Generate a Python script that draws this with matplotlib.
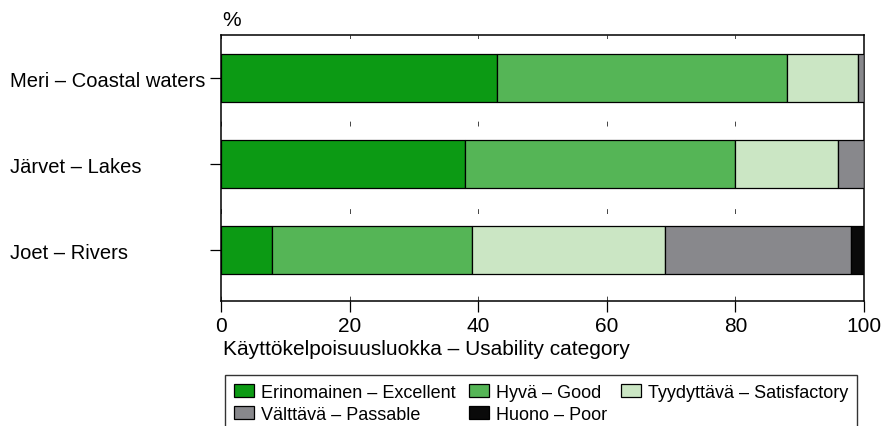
import matplotlib.pyplot as plt
import numpy as np

plt.rcParams['font.family'] = ['Liberation Sans', 'DejaVu Sans']

# Käyttökelpoisuusluokat (%) / usability category shares
alueet = ['Meri – Coastal waters', 'Järvet – Lakes', 'Joet – Rivers']
luokat = ['Erinomainen – Excellent', 'Hyvä – Good', 'Tyydyttävä – Satisfactory',
          'Välttävä – Passable', 'Huono – Poor']
erinomainen = [43, 38, 8]
hyva = [45, 42, 31]
tyydyttava = [11, 16, 30]
valttava = [1, 4, 29]
huono = [0, 0, 2]
varit = ['#0c9a14', '#55b556', '#cbe6c4', '#88888c', '#0a0a0a']

fig = plt.figure(figsize=(8.83, 4.27), dpi=100)
ax = fig.add_axes([221 / 883, 1 - 302 / 427, 643 / 883, 266 / 427])

y = np.array([2, 1, 0])
vasen = np.zeros(3)
palkit = []
for arvot, vari, nimi in zip([erinomainen, hyva, tyydyttava, valttava, huono], varit, luokat):
    b = ax.barh(y, arvot, left=vasen, height=0.55, color=vari, edgecolor='black',
                linewidth=0.9, label=nimi, zorder=3)
    palkit.append(b)
    vasen = vasen + np.array(arvot)

ax.set_xlim(0, 100)
ax.set_ylim(-0.593, 2.5)
ax.set_xticks([0, 20, 40, 60, 80, 100])
ax.tick_params(axis='x', length=8, width=0.9, labelsize=15, pad=3)
ax.set_yticks(y)
ax.set_yticklabels(alueet)
ax.tick_params(axis='y', length=8, width=0.9, labelsize=14.5, pad=144)
for t in ax.get_yticklabels():
    t.set_horizontalalignment('left')

ax.xaxis.grid(True, color='#444444', linewidth=0.7, linestyle=(0, (5, 40)))
ax.set_axisbelow(True)
for s in ax.spines.values():
    s.set_linewidth(1.1)

fig.text(232 / 883, 1 - 20 / 427, '%', fontsize=15, ha='center', va='center')
fig.text(223 / 883, 1 - 350 / 427, 'Käyttökelpoisuusluokka – Usability category',
         fontsize=15, ha='left', va='center')

# rivi 1: Excellent, Good, Satisfactory; rivi 2: Passable, Poor
jarjestys = [0, 3, 1, 4, 2]
leg = fig.legend([palkit[i] for i in jarjestys], [luokat[i] for i in jarjestys],
                 ncol=3, loc='upper left', bbox_to_anchor=(225 / 883, 1 - 376 / 427),
                 borderaxespad=0, fontsize=13, frameon=True, fancybox=False,
                 edgecolor='black', handlelength=1.1, handleheight=0.7,
                 handletextpad=0.4, columnspacing=0.75, labelspacing=0.25,
                 borderpad=0.5)
leg.get_frame().set_linewidth(1.0)

fig.savefig('out.png', dpi=100)
